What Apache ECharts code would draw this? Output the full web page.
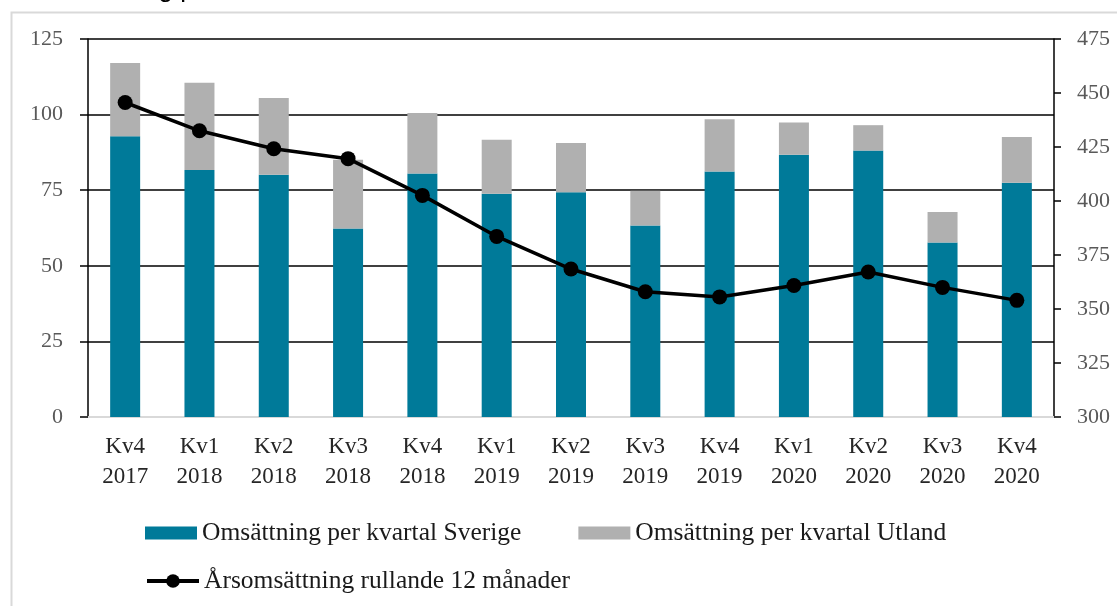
<!DOCTYPE html>
<html>
<head>
<meta charset="utf-8">
<script src="https://cdn.jsdelivr.net/npm/echarts@6/dist/echarts.min.js"></script>
<style>
html,body{margin:0;padding:0;background:#fff;}
#chart{width:1117px;height:606px;}
</style>
</head>
<body>
<div id="chart"></div>
<script>
const categories = ['Kv4\n2017','Kv1\n2018','Kv2\n2018','Kv3\n2018','Kv4\n2018','Kv1\n2019','Kv2\n2019','Kv3\n2019','Kv4\n2019','Kv1\n2020','Kv2\n2020','Kv3\n2020','Kv4\n2020'];
const sverige = [92.8, 81.7, 80.1, 62.3, 80.5, 73.8, 74.3, 63.3, 81.2, 86.7, 88.1, 57.7, 77.5];
const utland  = [24.3, 28.8, 25.4, 22.8, 20.0, 17.9, 16.3, 11.5, 17.3, 10.7, 8.4, 10.1, 15.1];
const rullande = [445.6, 432.5, 424.2, 419.6, 402.6, 383.6, 368.5, 358.0, 355.6, 360.9, 367.1, 360.0, 354.0];
const leftTicks = {min: 0, max: 125, interval: 25};
const rightTicks = {min: 300, max: 475, interval: 25};
const names = ['Omsättning per kvartal Sverige', 'Omsättning per kvartal Utland', 'Årsomsättning rullande 12 månader'];

const FONT = '"Liberation Serif", "Times New Roman", serif';
const chart = echarts.init(document.getElementById('chart'), null, {renderer: 'canvas'});
chart.setOption({
  backgroundColor: '#ffffff',
  animation: false,
  textStyle: {fontFamily: FONT},
  graphic: [
    {type: 'rect', left: 9, top: 10, shape: {width: 1200, height: 700},
     style: {fill: 'none', stroke: '#d9d9d9', lineWidth: 2}, silent: true},
    {type: 'text', x: 40, y: -10,
     style: {text: 'Omsättning per kvartal', font: '26px "Liberation Sans", Arial, sans-serif', fill: '#000', verticalAlign: 'middle'}}
  ],
  grid: {left: 88, right: 63, top: 39, bottom: 189},
  legend: [
    {data: [names[0], names[1]], left: 145, top: 520, padding: 0, itemWidth: 52, itemHeight: 13, itemGap: 57,
     textStyle: {fontFamily: FONT, fontSize: 25.5, color: '#1a1a1a'}, icon: 'rect'},
    {data: [names[2]], left: 145, top: 568, padding: 0, itemWidth: 52, itemHeight: 17,
     lineStyle: {width: 4, color: '#000'},
     textStyle: {fontFamily: FONT, fontSize: 25.5, color: '#1a1a1a'}}
  ],
  xAxis: {
    type: 'category', data: categories,
    axisLine: {show: true, lineStyle: {color: '#d9d9d9', width: 2}},
    axisTick: {show: false},
    axisLabel: {fontFamily: FONT, fontSize: 23, lineHeight: 30, color: '#262626', margin: 15, interval: 0}
  },
  yAxis: [
    {type: 'value', min: leftTicks.min, max: leftTicks.max, interval: leftTicks.interval,
     axisLine: {show: true, lineStyle: {color: '#000', width: 1.5}},
     axisTick: {show: true, inside: false, length: 8, lineStyle: {color: '#000', width: 1.5}},
     axisLabel: {fontFamily: FONT, fontSize: 22, color: '#595959', margin: 25},
     splitLine: {show: true, lineStyle: {color: ['#d9d9d9', '#000', '#000', '#000', '#000', '#000'], width: 1.5}}
    },
    {type: 'value', min: rightTicks.min, max: rightTicks.max, interval: rightTicks.interval,
     position: 'right',
     axisLine: {show: true, lineStyle: {color: '#000', width: 1.5}},
     axisTick: {show: true, inside: false, length: 7, lineStyle: {color: '#000', width: 1.5}},
     axisLabel: {fontFamily: FONT, fontSize: 22, color: '#595959', margin: 23},
     splitLine: {show: false}
    }
  ],
  series: [
    {name: names[0], type: 'bar', stack: 'oms', data: sverige, barWidth: 30,
     itemStyle: {color: '#007a99'}},
    {name: names[1], type: 'bar', stack: 'oms', data: utland, barWidth: 30,
     itemStyle: {color: '#b0b0b0'}},
    {name: names[2], type: 'line', yAxisIndex: 1, data: rullande,
     symbol: 'circle', symbolSize: 15, z: 10,
     lineStyle: {color: '#000', width: 3.5}, itemStyle: {color: '#000'}}
  ]
});
</script>
</body>
</html>
